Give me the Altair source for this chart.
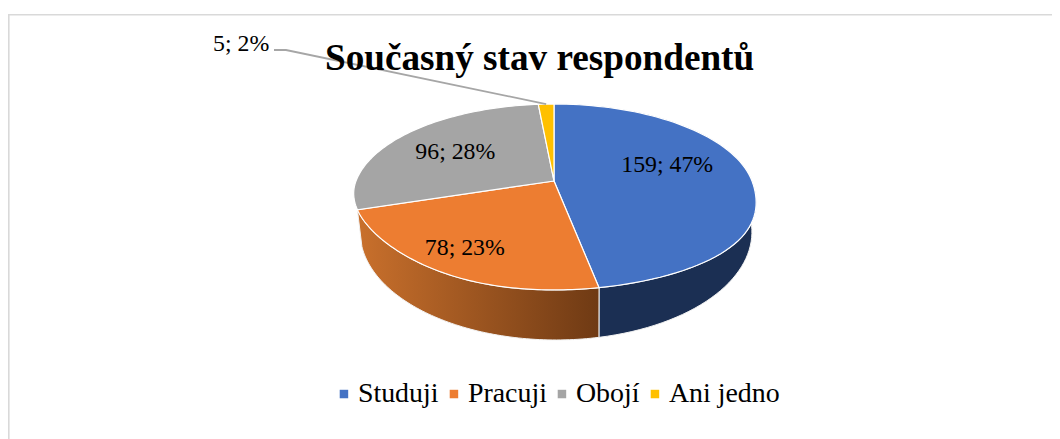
import numpy as np
import pandas as pd
import altair as alt

# --- data ---
categories = ["Studuji", "Pracuji", "Obojí", "Ani jedno"]
counts = [159, 78, 96, 5]
percents = [47, 23, 28, 2]
colors = ["#4472C4", "#ED7D31", "#A5A5A5", "#FFC000"]
labels = [f"{c}; {p}%" for c, p in zip(counts, percents)]

FONT = "Liberation Serif"
W, H = 1044, 431

# perspective model of the tilted disc (page pixels)
K = 0.172
TOP = dict(cx=554, cy=181, a=198, b=90.2, bulge=30)
LOW = dict(cx=556, cy=213.4, a=193, b=104.8, bulge=0)


def project(disc, r, deg):
    t = np.radians(deg)
    X, Y = r * np.sin(t), -r * np.cos(t)
    den = 1 - K * Y
    shift = disc["bulge"] * np.maximum(Y, 0) ** 2 * X ** 2
    return disc["cx"] + disc["a"] * X / den + shift, disc["cy"] + disc["b"] * Y / den


edges = np.cumsum([0] + counts) / sum(counts) * 360.0
scale_x = alt.Scale(domain=[8, 8 + W], range=[0, W], nice=False, zero=False)
scale_y = alt.Scale(domain=[8 + H, 8], range=[H, 0], nice=False, zero=False)
X_ENC = alt.X("px:Q", scale=scale_x, axis=None)
Y_ENC = alt.Y("py:Q", scale=scale_y, axis=None)

layers = []

# visible sides: the two front slices
side_fill = {
    0: "#1b2f53",
    1: {"gradient": "linear", "x1": 0, "x2": 1, "y1": 0, "y2": 0,
        "stops": [{"offset": 0, "color": "#c9702c"}, {"offset": 1, "color": "#6f3a14"}]},
}
for i, fill in side_fill.items():
    deg = np.linspace(edges[i], edges[i + 1], 80)
    xt, yt = project(TOP, 1, deg)
    xl, yl = project(LOW, 1, deg[::-1])
    df = pd.DataFrame({"px": np.r_[xt, xl, xt[:1]], "py": np.r_[yt, yl, yt[:1]]})
    df["i"] = range(len(df))
    layers.append(
        alt.Chart(df).mark_line(filled=True, fill=fill, stroke="#f2f2f2", strokeWidth=1).encode(
            x=X_ENC, y=Y_ENC, order="i:Q"
        )
    )

# top faces
top_rows = []
for i, cat in enumerate(categories):
    deg = np.linspace(edges[i], edges[i + 1], 80)
    xt, yt = project(TOP, 1, deg)
    df = pd.DataFrame({
        "px": np.r_[TOP["cx"], xt, TOP["cx"]],
        "py": np.r_[TOP["cy"], yt, TOP["cy"]],
    })
    df["i"] = range(len(df))
    df["cat"] = cat
    top_rows.append(df)
top_df = pd.concat(top_rows)

legend = alt.Legend(
    title=None, orient="none", legendX=322, legendY=372, direction="horizontal", columns=4,
    symbolType="square", symbolSize=72, symbolStrokeWidth=0, labelFont=FONT, labelFontSize=27.9,
    labelColor="#000000", labelOffset=0, columnPadding=1, symbolOpacity=1, labelLimit=300,
)
layers.append(
    alt.Chart(top_df).mark_line(filled=True, stroke="#ffffff", strokeWidth=1.2).encode(
        x=X_ENC, y=Y_ENC, order="i:Q", detail="cat:N",
        fill=alt.Fill("cat:N", scale=alt.Scale(domain=categories, range=colors), legend=legend),
    )
)

# leader line of the smallest slice
rim_x, rim_y = project(TOP, 1, (edges[3] + edges[4]) / 2)
leader = pd.DataFrame({"px": [274, 286, rim_x], "py": [50, 50, rim_y], "i": [0, 1, 2]})
layers.append(
    alt.Chart(leader).mark_line(color="#a6a6a6", strokeWidth=1.8).encode(x=X_ENC, y=Y_ENC, order="i:Q")
)

# data labels: anchored on each slice, then nudged like the original
radii = [0.6, 0.6, 0.6, 1.0]
nudge = [(-4, -11), (-23, 16), (-5, -1), (-305, -60)]
for i, lab in enumerate(labels):
    ax, ay = project(TOP, radii[i], (edges[i] + edges[i + 1]) / 2)
    layers.append(
        alt.Chart(pd.DataFrame({"px": [ax], "py": [ay], "t": [lab]})).mark_text(
            font=FONT, fontSize=23.8, color="#000000", align="center", baseline="middle",
            dx=nudge[i][0], dy=nudge[i][1],
        ).encode(x=X_ENC, y=Y_ENC, text="t:N")
    )

# chart frame (only top and left are inside the picture)
layers.append(alt.Chart(pd.DataFrame({"a": [0]})).mark_rule(color="#d9d9d9", strokeWidth=1.6).encode(
    x=alt.value(0.8), y=alt.value(6), y2=alt.value(H)))
layers.append(alt.Chart(pd.DataFrame({"a": [0]})).mark_rule(color="#d9d9d9", strokeWidth=1.6).encode(
    x=alt.value(0), x2=alt.value(W), y=alt.value(6.8)))

chart = alt.layer(*layers).properties(
    width=W, height=H, padding=0,
    autosize=alt.AutoSizeParams(type="none"),
    title=alt.TitleParams(
        "Současný stav respondentů", font=FONT, fontSize=37.2, fontWeight="bold", color="#000000",
        anchor="start", frame="group", dx=317, dy=70, offset=0,
    ),
).configure_view(stroke=None)

chart.save("out.html", embed_options={"renderer": "svg", "actions": False})
